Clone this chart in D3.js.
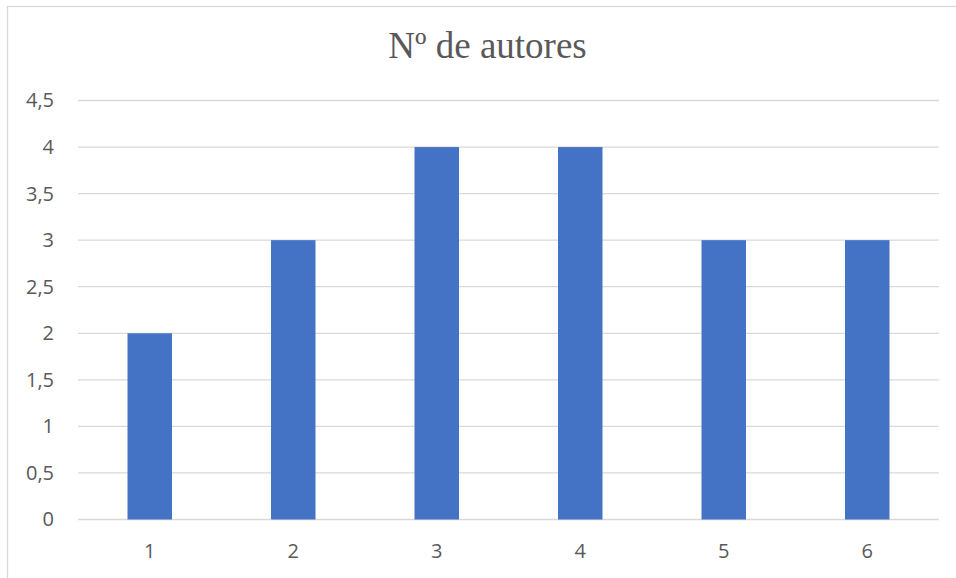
<!DOCTYPE html>
<html>
<head>
<meta charset="utf-8">
<script src="https://cdn.jsdelivr.net/npm/d3@7"></script>
<style>
  html, body { margin: 0; padding: 0; background: #fff; }
  svg { display: block; }
</style>
</head>
<body>
<svg id="chart" width="956" height="578"></svg>
<script>
// Number of authors per item
const categories = ["1", "2", "3", "4", "5", "6"];
const values = [2, 3, 4, 4, 3, 3];
const yTicks = [0, 0.5, 1, 1.5, 2, 2.5, 3, 3.5, 4, 4.5];
const titleText = "Nº de autores";

const svg = d3.select("#chart");
const W = 956, H = 578;
const margin = { left: 78, right: 17, top: 100.5, bottom: 58.5 };

// Chart frame
svg.append("rect")
  .attr("x", 7.5).attr("y", 6.5)
  .attr("width", 980).attr("height", 600)
  .attr("fill", "#fff")
  .attr("stroke", "#d9d9d9").attr("stroke-width", 1.3);

const x = d3.scaleBand()
  .domain(categories)
  .range([margin.left, W - margin.right])
  .padding(0);

const y = d3.scaleLinear()
  .domain([0, 4.5])
  .range([H - margin.bottom, margin.top]);

const fmt = d => String(d).replace(".", ",");

// Horizontal gridlines
svg.append("g")
  .selectAll("line")
  .data(yTicks)
  .join("line")
  .attr("x1", margin.left).attr("x2", W - margin.right)
  .attr("y1", d => y(d)).attr("y2", d => y(d))
  .attr("stroke", "#d9d9d9").attr("stroke-width", 1.3);

// Bars
const barW = x.bandwidth() * 0.31;
svg.append("g")
  .selectAll("rect")
  .data(values)
  .join("rect")
  .attr("x", (d, i) => x(categories[i]) + (x.bandwidth() - barW) / 2)
  .attr("y", d => y(d))
  .attr("width", barW)
  .attr("height", d => y(0) - y(d))
  .attr("fill", "#4472c4");

// Y axis labels
const yAxis = d3.axisLeft(y).tickValues(yTicks).tickFormat(fmt).tickSize(0).tickPadding(0);
const gy = svg.append("g")
  .attr("transform", `translate(${54},0)`)
  .call(yAxis);
gy.select(".domain").remove();
gy.attr("font-size", null).attr("font-family", null);
gy.selectAll("text")
  .style("font-family", "'Open Sans', sans-serif")
  .style("font-size", "20px")
  .attr("fill", "#595959");

// X axis labels
const xAxis = d3.axisBottom(x).tickSize(0).tickPadding(0);
const gx = svg.append("g")
  .attr("transform", `translate(0,${y(0) + 24})`)
  .call(xAxis);
gx.select(".domain").remove();
gx.attr("font-size", null).attr("font-family", null);
gx.selectAll("text")
  .style("font-family", "'Open Sans', sans-serif")
  .style("font-size", "20px")
  .attr("fill", "#595959");

// Title
svg.append("text")
  .attr("x", 487.5).attr("y", 58)
  .attr("text-anchor", "middle")
  .style("font-family", "'Liberation Serif', 'Times New Roman', serif")
  .style("font-size", "37px")
  .attr("fill", "#595959")
  .text(titleText);
</script>
</body>
</html>
